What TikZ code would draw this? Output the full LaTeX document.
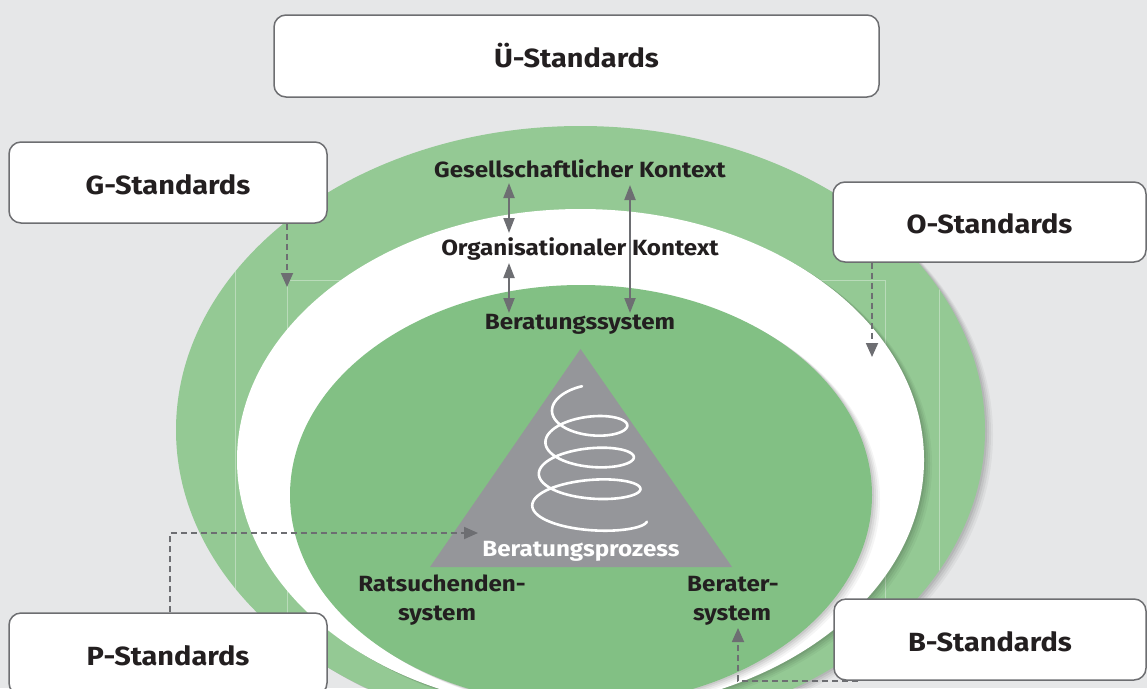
\documentclass[tikz,border=0pt]{standalone}
\usepackage{fontspec}
\setmainfont[FakeStretch=1.1]{Fira Sans}
\usetikzlibrary{arrows.meta}
\definecolor{bg}{HTML}{E6E7E8}
\definecolor{lgreen}{HTML}{94C994}
\definecolor{dgreen}{HTML}{82C084}
\definecolor{trigray}{HTML}{95969A}
\definecolor{arrgray}{HTML}{6D6E72}
\definecolor{boxgray}{HTML}{6D6E71}
\definecolor{txt}{HTML}{231F20}
\tikzset{
  stdbox/.style={draw=boxgray, line width=1.5pt, fill=white, rounded corners=12pt,
    font=\bfseries\fontsize{26.3}{30}\selectfont, text=txt, inner sep=0pt,
    text height=23pt, text depth=0pt},
  lbl/.style={font=\bfseries\fontsize{22}{30}\selectfont, text=txt, inner sep=0pt, anchor=base},
  dbl/.style={arrgray, line width=2pt, {Triangle[length=15pt,width=11pt]}-{Triangle[length=15pt,width=11pt]}},
  dsh/.style={arrgray, line width=1.8pt, dash pattern=on 6pt off 4pt, -{Triangle[length=14pt,width=12pt]}},
  artline/.style={white, opacity=0.35, line width=1pt}
}
\def\outerpath{(580.5,430) ellipse [x radius=404.5pt, y radius=304pt]}
\def\whitepath{(580.5,460) ellipse [x radius=343.5pt, y radius=251pt]}
\def\innerpath{(581,495) ellipse [x radius=291pt, y radius=210pt]}
\begin{document}
\begin{tikzpicture}[x=1pt,y=-1pt]
\useasboundingbox (0,0) rectangle (1147,688);
\fill[bg] (0,0) rectangle (1147,688);
% outer ring with shadow
\foreach \s/\o in {8/0.04,6/0.05,4/0.06,2/0.07}{
  \fill[black,opacity=\o,shift={(\s,0.6*\s)}] \outerpath;
}
\fill[lgreen] \outerpath;
\begin{scope}
  \clip \outerpath;
  \draw[artline] (235,263) -- (235,760);
  \draw[artline] (939,263) -- (939,760);
  \draw[artline] (287,760) -- (287,280) -- (885,280) -- (885,760);
\end{scope}
% white ring with shadow
\foreach \s/\o in {8/0.04,6/0.05,4/0.06,2/0.07}{
  \fill[black,opacity=\o,shift={(\s,0.6*\s)}] \whitepath;
}
\fill[white] \whitepath;
% inner disc with shadow
\foreach \s/\o in {8/0.04,6/0.05,4/0.06,2/0.07}{
  \fill[black,opacity=\o,shift={(\s,0.6*\s)}] \innerpath;
}
\fill[dgreen] \innerpath;
% triangle
\fill[trigray] (580.5,349) -- (732,567) -- (430,567) -- cycle;
% spiral
\draw[white, line width=2.6pt, line cap=round]
  plot[domain=-100:-1436, samples=260, smooth, variable=\t]
  ({588 + (36 + (-180-\t)*0.0183)*cos(\t)}, {410 + (-180-\t)*0.088 + 17*sin(\t)});
% labels
\node[lbl] (gk) at (580,177) {Gesellschaftlicher Kontext};
\node[lbl] (ok) at (580,255) {Organisationaler Kontext};
\node[lbl] (bs) at (580,329) {Beratungssystem};
\node[lbl, text=white] (bp) at (581,556) {Beratungsprozess};
\node[lbl] (rs1) at (442,591) {Ratsuchenden-};
\node[lbl] (rs2) at (437,620) {system};
\node[lbl] (bsy1) at (733,591) {Berater-};
\node[lbl] (bsy2) at (732,620) {system};
% boxes
\node[stdbox, minimum width=605pt, minimum height=82pt] (ustd) at (576.5,56) {Ü-Standards};
\node[stdbox, minimum width=318pt, minimum height=81pt] (gstd) at (168,182.5) {G-Standards};
\node[stdbox, minimum width=313pt, minimum height=80pt] (ostd) at (989.5,222) {O-Standards};
\node[stdbox, minimum width=318pt, minimum height=82pt] (pstd) at (168,654) {P-Standards};
\node[stdbox, minimum width=312pt, minimum height=81pt] (bstd) at (990,639.5) {B-Standards};
% helper coordinates
\coordinate (xa) at (509,0);
\coordinate (xb) at (630,0);
\coordinate (gx) at (287,0);
\coordinate (ox) at (872,0);
\coordinate (px) at (170,0);
\coordinate (bx) at (858,0);
\coordinate (gend) at (287,287);
\coordinate (oend) at (872,357);
\coordinate (pend) at (478,533);
\coordinate (bend) at (738,628);
% solid double arrows
\draw[dbl] ([yshift=-6pt]gk.base -| xa) -- ([yshift=22pt]ok.base -| xa);
\draw[dbl] ([yshift=-8pt]ok.base -| xa) -- ([yshift=16pt]bs.base -| xa);
\draw[dbl] ([yshift=-8pt]gk.base -| xb) -- ([yshift=16pt]bs.base -| xb);
% dashed arrows
\draw[dsh] (gstd.south -| gx) -- (gend);
\draw[dsh] (ostd.south -| ox) -- (oend);
\draw[dsh] (pstd.north -| px) |- (pend);
\draw[dsh] (bstd.south -| bx) -| (bend);
\end{tikzpicture}
\end{document}
